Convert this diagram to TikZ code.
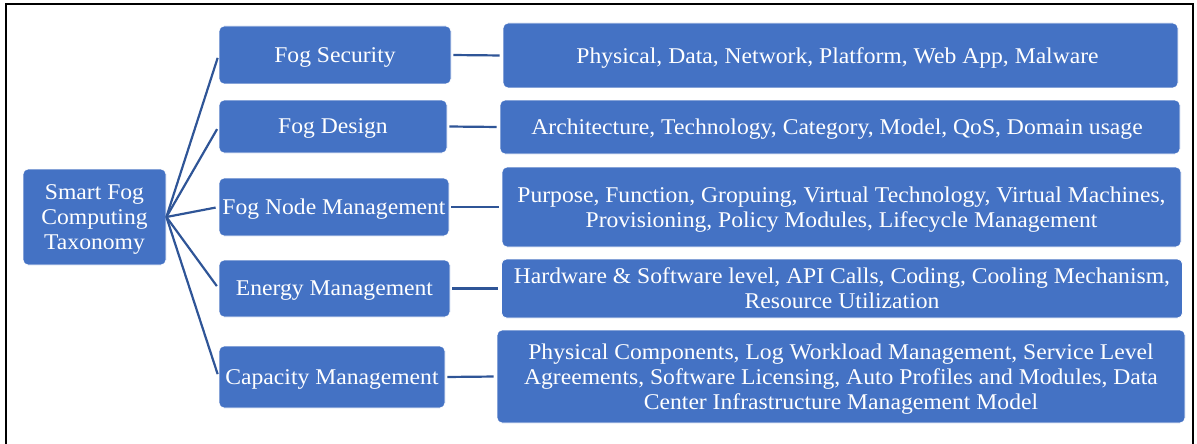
\documentclass[tikz,border=0pt]{standalone}
\usepackage{fontspec}
\setmainfont{Liberation Serif}
\newfontfamily\boxfont[FakeStretch=1.05]{Liberation Serif}
\usepackage{tikz}
\definecolor{boxblue}{HTML}{4472C4}
\definecolor{linkblue}{HTML}{2F5597}

\begin{document}
\begin{tikzpicture}[
    x=1pt, y=-1pt,
    block/.style={
      fill=boxblue,
      draw=white,
      line width=0.8pt,
      rounded corners=5pt,
      text=white,
      align=center,
      inner sep=0pt,
      text depth=0pt,
      font=\boxfont\fontsize{22.5}{25}\selectfont,
    },
    root/.style={
      block,
      minimum width=143pt,
      minimum height=96pt,
    },
    topic/.style={
      block,
    },
    detail/.style={
      block,
    },
    link/.style={
      draw=linkblue,
      line width=2.2pt,
      shorten <=2pt,
      shorten >=3pt,
    },
    ]
    \useasboundingbox (0,0) rectangle (1197,444);
    \clip (0,0) rectangle (1197,444);
    \draw[line width=2pt] (6,4) rectangle (1193,470);

    \node[root] (tax) at (94.5,217) {Smart Fog\\Computing\\Taxonomy};

    \node[topic, minimum width=232pt, minimum height=58pt] (sec) at (335,55) {Fog Security};
    \node[topic, minimum width=228pt, minimum height=53pt] (design) at (333,126.5) {Fog Design};
    \node[topic, minimum width=230pt, minimum height=58pt] (nodes) at (334,207) {Fog Node Management};
    \node[topic, minimum width=231pt, minimum height=57pt] (energy) at (334.5,288.5) {Energy Management};
    \node[topic, minimum width=226pt, minimum height=62pt] (capacity) at (332,377) {Capacity Management};

    \node[detail, minimum width=675pt, minimum height=65pt] (secd) at (840.5,55.5) {
      Physical, Data, Network, Platform, Web App, Malware
    };
    \node[detail, minimum width=680pt, minimum height=54pt] (designd) at (840,127) {
      Architecture, Technology, Category, Model, QoS, Domain usage
    };
    \node[detail, minimum width=679pt, minimum height=80pt] (nodesd) at (841.5,207) {
      Purpose, Function, Gropuing, Virtual Technology, Virtual Machines,\\
      Provisioning, Policy Modules, Lifecycle Management
    };
    \node[detail, minimum width=681pt, minimum height=59pt] (energyd) at (842,288.5) {
      Hardware \& Software level, API Calls, Coding, Cooling Mechanism,\\
      Resource Utilization
    };
    \node[detail, minimum width=688pt, minimum height=93pt] (capacityd) at (841,376.5) {
      Physical Components, Log Workload Management, Service Level\\
      Agreements, Software Licensing, Auto Profiles and Modules, Data\\
      Center Infrastructure Management Model
    };

    \draw[link, shorten <=0pt] (tax.east) -- (sec.west);
    \draw[link, shorten <=0pt] (tax.east) -- (design.west);
    \draw[link, shorten <=0pt] (tax.east) -- (nodes.west);
    \draw[link, shorten <=0pt] (tax.east) -- (energy.west);
    \draw[link, shorten <=0pt] (tax.east) -- (capacity.west);
    \draw[link] (sec.east) -- (secd.west);
    \draw[link] (design.east) -- (designd.west);
    \draw[link] (nodes.east) -- (nodesd.west);
    \draw[link] (energy.east) -- (energyd.west);
    \draw[link] (capacity.east) -- (capacityd.west);
  \end{tikzpicture}
\end{document}
